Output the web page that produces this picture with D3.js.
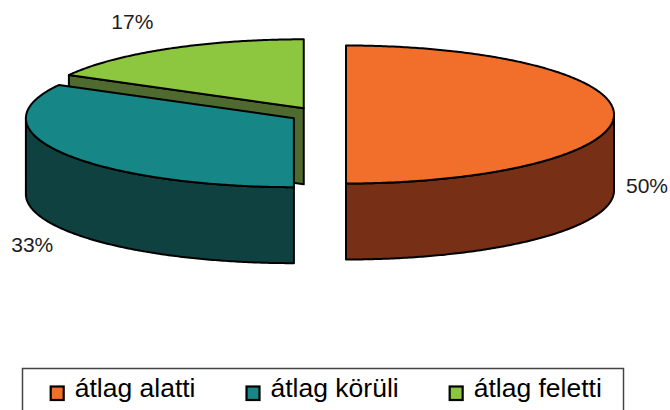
<!DOCTYPE html>
<html><head><meta charset="utf-8">
<script src="https://cdn.jsdelivr.net/npm/d3@7"></script>
<style>
html,body{margin:0;padding:0;background:#fff;}
svg{display:block;}
text{font-family:"Liberation Sans",Arial,sans-serif;}
</style></head>
<body>
<svg id="chart" width="670" height="410"></svg>
<script>
const categories = ["átlag alatti", "átlag körüli", "átlag feletti"];
const values = [50, 33, 17];
const valueLabels = ["50%", "33%", "17%"];
const topColors = ["#F26E2B", "#178686", "#8DC63F"];
const sideColors = ["#773016", "#0F4141", "#4F6A2E"];

const W = 670, H = 410;
const svg = d3.select("#chart");

// 3D pie geometry
const cx0 = 318, cy0 = 114.5, rx = 268, ry = 69, depth = 76, explode = 28;

const arcs = d3.pie().sort(null).value(d => d)(values);

function rim(c, a, dy) {
  return [c.x + rx * Math.sin(a), c.y - ry * Math.cos(a) + (dy || 0)];
}
function rimPts(c, a0, a1, dy) {
  const n = Math.max(2, Math.ceil(Math.abs(a1 - a0) / 0.01));
  return d3.range(n + 1).map(i => rim(c, a0 + (a1 - a0) * i / n, dy));
}
const line = d3.line();

const slices = arcs.map((d, i) => {
  const mid = (d.startAngle + d.endAngle) / 2;
  const c = { x: cx0 + explode * Math.sin(mid), y: cy0 - explode * (ry / rx) * Math.cos(mid) };
  return { d, i, mid, c };
});

const order = slices.slice().sort((a, b) => Math.cos(b.mid) - Math.cos(a.mid));

const g = svg.append("g").attr("stroke", "#000").attr("stroke-width", 2).attr("stroke-linejoin", "round");

order.forEach(s => {
  const { d, i, c } = s;
  const a0 = d.startAngle, a1 = d.endAngle;
  const center = [c.x, c.y];
  const centerB = [c.x, c.y + depth];
  // radial face at start
  if (Math.sin(a0) < -0.01) {
    const p = rim(c, a0), pb = rim(c, a0, depth);
    g.append("path").attr("d", line([center, p, pb, centerB]) + "Z").attr("fill", sideColors[i]);
  }
  // radial face at end
  if (Math.sin(a1) > 0.01) {
    const p = rim(c, a1), pb = rim(c, a1, depth);
    g.append("path").attr("d", line([center, p, pb, centerB]) + "Z").attr("fill", sideColors[i]);
  }
  // outer wall (front half)
  const w0 = Math.max(a0, Math.PI / 2), w1 = Math.min(a1, 3 * Math.PI / 2);
  if (w1 > w0) {
    const pts = rimPts(c, w0, w1, 0).concat(rimPts(c, w1, w0, depth));
    g.append("path").attr("d", line(pts) + "Z").attr("fill", sideColors[i]);
  }
  // top face
  const topPts = [center].concat(rimPts(c, a0, a1, 0));
  g.append("path").attr("d", line(topPts) + "Z").attr("fill", topColors[i]);
});

// value labels (outside end)
const labelGap = [
  { dx: 33, dy: depth * 0.94 },
  { dx: -31, dy: depth * 1.2 },
  { dx: -35, dy: -27 }
];
slices.forEach(s => {
  const p = rim(s.c, s.mid);
  const o = labelGap[s.i];
  svg.append("text")
    .attr("x", p[0] + o.dx).attr("y", p[1] + o.dy)
    .attr("text-anchor", "middle").attr("dominant-baseline", "central")
    .attr("font-size", 21).attr("fill", "#1c1c24")
    .text(valueLabels[s.i]);
});

// legend
const lg = svg.append("g");
lg.append("rect").attr("x", 22.5).attr("y", 368.5).attr("width", 601).attr("height", 60)
  .attr("fill", "#fff").attr("stroke", "#444").attr("stroke-width", 1.5);
let lx = 50.7;
categories.forEach((name, i) => {
  lg.append("rect").attr("x", lx).attr("y", 386.5).attr("width", 13).attr("height", 13.5)
    .attr("fill", topColors[i]).attr("stroke", "#000").attr("stroke-width", 2.2);
  const t = lg.append("text").attr("x", lx + 24).attr("y", 397)
    .attr("font-size", 26.5).attr("fill", "#000").text(name);
  lx = lx + 24 + t.node().getComputedTextLength() + 51;
});
</script>
</body></html>
